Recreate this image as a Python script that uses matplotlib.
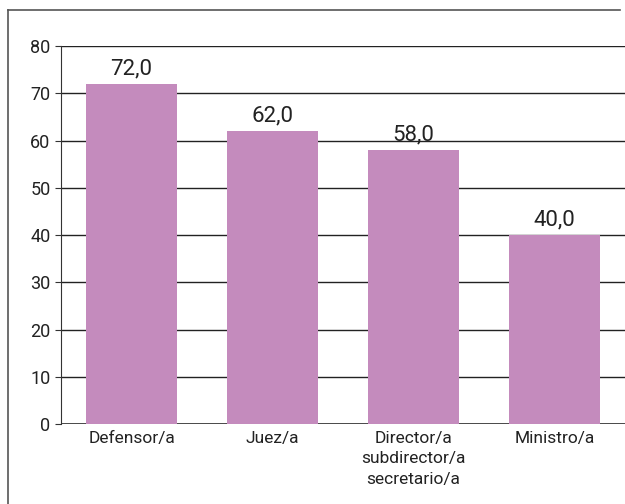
import matplotlib.pyplot as plt
from matplotlib.lines import Line2D

# --- Data ---
categories = ["Defensor/a", "Juez/a", "Director/a\nsubdirector/a\nsecretario/a", "Ministro/a"]
values = [72.0, 62.0, 58.0, 40.0]
y_ticks = [0, 10, 20, 30, 40, 50, 60, 70, 80]

plt.rcParams["font.family"] = ["Liberation Sans Narrow", "Roboto", "DejaVu Sans"]

fig = plt.figure(figsize=(6.25, 5.04), dpi=100)
ax = fig.add_axes([0.0976, 0.1587, 0.9024, 0.75])

x = range(len(categories))
ax.bar(x, values, width=0.64, color="#C48BBD", zorder=3)
for xi, v in zip(x, values):
    ax.text(xi, v + 0.9, f"{v:.1f}".replace(".", ","), ha="center", va="bottom",
            fontsize=16, color="#222222", zorder=4)

ax.set_xlim(-0.5, 3.5)
ax.set_ylim(0, 80)
ax.set_yticks(y_ticks)
ax.set_xticks(list(x))
ax.set_xticklabels(categories, fontsize=12.5, color="#222222", linespacing=1.45)
ax.tick_params(axis="x", length=0, pad=5)
ax.tick_params(axis="y", length=4, direction="out", labelsize=13, labelcolor="#222222", color="#333333")
ax.grid(axis="y", color="#222222", linewidth=1.0, zorder=0)
ax.axhline(0, color="#333333", linewidth=1.2, zorder=2)

for s in ["top", "right", "bottom"]:
    ax.spines[s].set_visible(False)
ax.spines["left"].set_color("#333333")

# outer frame (top and left edges visible)
fig.add_artist(Line2D([8 / 625, 620 / 625], [1 - 10 / 504, 1 - 10 / 504],
                      transform=fig.transFigure, color="#555555", linewidth=1.2))
fig.add_artist(Line2D([8 / 625, 8 / 625], [0, 1 - 10 / 504],
                      transform=fig.transFigure, color="#555555", linewidth=1.2))

fig.savefig("out.png", dpi=100)
